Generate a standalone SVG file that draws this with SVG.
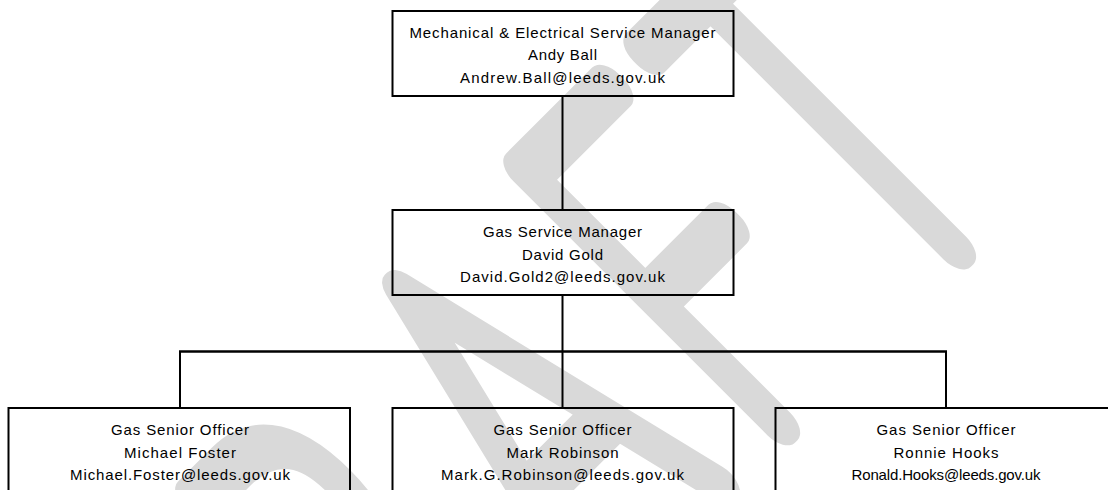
<svg xmlns="http://www.w3.org/2000/svg" width="1108" height="490" viewBox="0 0 1108 490">
<style>
.bg{fill:#fff}
.box{fill:none;stroke:#000;stroke-width:2}
.t{font-family:"Liberation Sans",Arial,sans-serif;font-size:15px;fill:#000;text-anchor:middle}
.wm{font-family:Lato,"Liberation Sans",sans-serif;font-weight:100;font-size:514px;fill:#d9d9d9;stroke:#d9d9d9;stroke-width:40;stroke-linejoin:round;stroke-linecap:round;vector-effect:non-scaling-stroke}
.conn{stroke:#000;stroke-width:2;fill:none}
.bar{stroke:#000;stroke-width:2.5;fill:none}
</style>
<rect class="bg" x="0" y="0" width="1108" height="490"/>
<g id="watermark">
<text class="wm" transform="translate(786,417) rotate(-45) scale(0.58,1)" x="-1300 -880 -477 -80 265" y="0">DRAFT</text>
</g>
<g id="connectors">
<line class="conn" x1="562.5" y1="96" x2="562.5" y2="210"/>
<line class="conn" x1="562.5" y1="295" x2="562.5" y2="351.5"/>
<line class="bar" x1="179" y1="351.5" x2="947" y2="351.5"/>
<line class="conn" x1="180" y1="351.5" x2="180" y2="408"/>
<line class="conn" x1="562.5" y1="351.5" x2="562.5" y2="408"/>
<line class="conn" x1="946" y1="351.5" x2="946" y2="408"/>
</g>
<g id="node-me-manager">
<rect class="box" x="392.5" y="11" width="341" height="85"/>
<text class="t" x="562.5" y="37.5" textLength="306">Mechanical &amp; Electrical Service Manager</text>
<text class="t" x="562.5" y="60" textLength="69">Andy Ball</text>
<text class="t" x="562.5" y="82.5" textLength="205">Andrew.Ball@leeds.gov.uk</text>
</g>
<g id="node-gas-manager">
<rect class="box" x="392.5" y="210" width="341" height="85"/>
<text class="t" x="562.5" y="237" textLength="159">Gas Service Manager</text>
<text class="t" x="562.5" y="259.5" textLength="81">David Gold</text>
<text class="t" x="562.5" y="282" textLength="205">David.Gold2@leeds.gov.uk</text>
</g>
<g id="node-foster">
<rect class="box" x="8.5" y="408" width="341.5" height="100"/>
<text class="t" x="180" y="435" textLength="138">Gas Senior Officer</text>
<text class="t" x="180" y="457.5" textLength="112">Michael Foster</text>
<text class="t" x="180" y="480" textLength="220">Michael.Foster@leeds.gov.uk</text>
</g>
<g id="node-robinson">
<rect class="box" x="392.5" y="408" width="341" height="100"/>
<text class="t" x="562.5" y="435" textLength="138">Gas Senior Officer</text>
<text class="t" x="562.5" y="457.5" textLength="112">Mark Robinson</text>
<text class="t" x="562.5" y="480" textLength="243">Mark.G.Robinson@leeds.gov.uk</text>
</g>
<g id="node-hooks">
<rect class="box" x="775.5" y="408" width="341" height="100"/>
<text class="t" x="946" y="435" textLength="139">Gas Senior Officer</text>
<text class="t" x="946" y="457.5" textLength="105">Ronnie Hooks</text>
<text class="t" x="946" y="480" textLength="189">Ronald.Hooks@leeds.gov.uk</text>
</g>
</svg>
